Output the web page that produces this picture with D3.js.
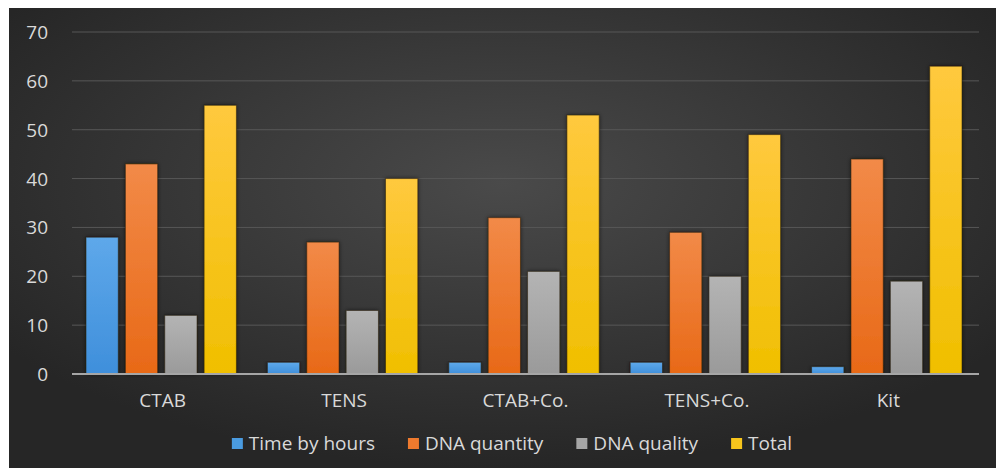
<!DOCTYPE html>
<html>
<head>
<meta charset="utf-8">
<script src="https://cdn.jsdelivr.net/npm/d3@7/dist/d3.min.js"></script>
<style>
  html, body { margin: 0; padding: 0; background: #ffffff; }
  svg { display: block; }
  text { font-family: "Open Sans", "Noto Sans", sans-serif; }
</style>
</head>
<body>
<div id="chart"></div>
<script>
// Extraction methods compared on four criteria
const categories = ["CTAB", "TENS", "CTAB+Co.", "TENS+Co.", "Kit"];
const seriesNames = ["Time by hours", "DNA quantity", "DNA quality", "Total"];
const timeByHours = [28, 2.4, 2.4, 2.4, 1.5];
const dnaQuantity = [43, 27, 32, 29, 44];
const dnaQuality = [12, 13, 21, 20, 19];
const total = [55, 40, 53, 49, 63];
const yTicks = [0, 10, 20, 30, 40, 50, 60, 70];

const seriesValues = [timeByHours, dnaQuantity, dnaQuality, total];
const colorsTop = ["#5ea8ea", "#f28a48", "#b4b4b4", "#ffc93e"];
const colorsBottom = ["#3f8fdb", "#e86917", "#9a9a9a", "#f0bf00"];
const legendColors = ["#4a9be0", "#ee7a2e", "#a6a6a6", "#f7c51c"];

const W = 996, H = 471;
const plot = { left: 72, right: 979, top: 32, bottom: 374 };
const fontSize = 19;

const svg = d3.select("#chart").append("svg")
  .attr("width", W).attr("height", H);

const defs = svg.append("defs");
const bg = defs.append("radialGradient").attr("id", "bgGrad")
  .attr("cx", "50%").attr("cy", "38%").attr("r", "62%");
bg.append("stop").attr("offset", "0%").attr("stop-color", "#4a4a4a");
bg.append("stop").attr("offset", "100%").attr("stop-color", "#262626");

seriesNames.forEach((s, i) => {
  const g = defs.append("linearGradient").attr("id", "barGrad" + i)
    .attr("x1", 0).attr("y1", 0).attr("x2", 0).attr("y2", 1);
  g.append("stop").attr("offset", "0%").attr("stop-color", colorsTop[i]);
  g.append("stop").attr("offset", "100%").attr("stop-color", colorsBottom[i]);
});

const shadow = defs.append("filter").attr("id", "barShadow")
  .attr("x", "-30%").attr("y", "-10%").attr("width", "160%").attr("height", "120%");
shadow.append("feDropShadow").attr("dx", 0).attr("dy", 0)
  .attr("stdDeviation", 2).attr("flood-color", "#000").attr("flood-opacity", 0.55);

// chart panel
svg.append("rect").attr("x", 9).attr("y", 8).attr("width", W - 9).attr("height", 460)
  .attr("fill", "url(#bgGrad)");

const y = d3.scaleLinear().domain([0, 70]).range([plot.bottom, plot.top]);
const x0 = d3.scaleBand().domain(categories).range([plot.left, plot.right]).padding(0);
const x1 = d3.scaleBand().domain(seriesNames)
  .range([14, x0.bandwidth() - 17]).paddingInner(0.18).paddingOuter(0);

// gridlines
svg.append("g").selectAll("line").data(yTicks.filter(t => t > 0)).join("line")
  .attr("x1", plot.left).attr("x2", plot.right)
  .attr("y1", d => y(d)).attr("y2", d => y(d))
  .attr("stroke", "#575757").attr("stroke-width", 1);

// y axis labels
const yAxis = svg.append("g").attr("transform", `translate(${plot.left - 24},0)`)
  .call(d3.axisLeft(y).tickValues(yTicks).tickSize(0).tickPadding(0));
yAxis.select(".domain").remove();
yAxis.selectAll("text").attr("fill", "#d9d9d9").attr("font-size", fontSize)
  .attr("font-family", "Open Sans, Noto Sans, sans-serif").attr("dy", "0.34em");

// bars
const groups = svg.append("g").selectAll("g").data(categories).join("g")
  .attr("transform", d => `translate(${x0(d)},0)`);
groups.selectAll("rect")
  .data((c, ci) => seriesNames.map((s, si) => ({ s, si, v: seriesValues[si][ci] })))
  .join("rect")
  .attr("x", d => x1(d.s))
  .attr("width", x1.bandwidth())
  .attr("y", d => y(d.v))
  .attr("height", d => y(0) - y(d.v))
  .attr("fill", d => `url(#barGrad${d.si})`)
  .attr("stroke", "rgba(40,30,10,0.55)").attr("stroke-width", 1)
  .attr("filter", "url(#barShadow)");

// x axis baseline and labels
svg.append("line").attr("x1", plot.left).attr("x2", plot.right)
  .attr("y1", y(0)).attr("y2", y(0))
  .attr("stroke", "#a6a6a6").attr("stroke-width", 2);
const xAxis = svg.append("g").attr("transform", `translate(0,${y(0)})`)
  .call(d3.axisBottom(x0).tickSize(0).tickPadding(0));
xAxis.select(".domain").remove();
xAxis.selectAll("text").attr("fill", "#d9d9d9").attr("font-size", fontSize)
  .attr("font-family", "Open Sans, Noto Sans, sans-serif")
  .attr("dy", 0).attr("y", 33);

// legend
const legend = svg.append("g");
let lx = 0;
seriesNames.forEach((s, i) => {
  const g = legend.append("g");
  g.append("rect").attr("x", 0).attr("y", -12).attr("width", 11).attr("height", 11)
    .attr("fill", legendColors[i]);
  const t = g.append("text").attr("x", 17).attr("y", 0)
    .attr("fill", "#d9d9d9").attr("font-size", fontSize).text(s);
  const w = 17 + t.node().getComputedTextLength();
  g.attr("transform", `translate(${lx},0)`);
  lx += w + 33;
});
const legendWidth = lx - 33;
legend.attr("transform", `translate(${512 - legendWidth / 2},450)`);
</script>
</body>
</html>
